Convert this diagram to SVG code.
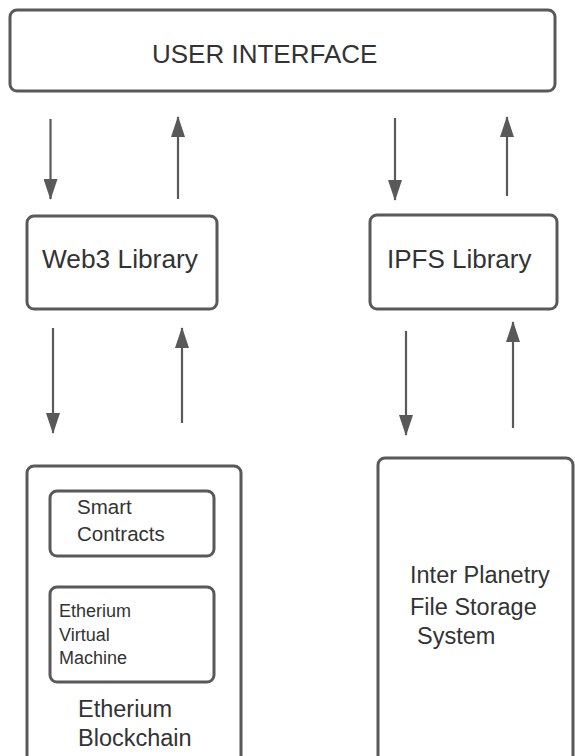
<svg xmlns="http://www.w3.org/2000/svg" width="575" height="756" viewBox="0 0 575 756">
<style>
.box{fill:#fff;stroke:#595959;stroke-width:3}
.t{font-family:"Liberation Sans",Arial,sans-serif;fill:#333}
.c{stroke:#595959;stroke-width:2.2;fill:none}
</style>
<defs>
<marker id="ah" markerUnits="userSpaceOnUse" markerWidth="21" markerHeight="14" refX="20" refY="7" orient="auto" viewBox="0 0 21 14">
<path d="M0,0 L21,7 L0,14 Z" fill="#595959"/>
</marker>
</defs>
<rect width="575" height="756" fill="#fff"/>
<g id="connectors">
<line class="c" x1="50.5" y1="119" x2="50.5" y2="199" marker-end="url(#ah)"/>
<line class="c" x1="178" y1="199" x2="178" y2="117" marker-end="url(#ah)"/>
<line class="c" x1="395" y1="118" x2="395" y2="200" marker-end="url(#ah)"/>
<line class="c" x1="507" y1="196" x2="507" y2="117" marker-end="url(#ah)"/>
<line class="c" x1="53" y1="328" x2="53" y2="433" marker-end="url(#ah)"/>
<line class="c" x1="182" y1="423" x2="182" y2="328" marker-end="url(#ah)"/>
<line class="c" x1="406" y1="331" x2="406" y2="435" marker-end="url(#ah)"/>
<line class="c" x1="513" y1="428" x2="513" y2="322" marker-end="url(#ah)"/>
</g>
<g id="ui">
<rect class="box" x="10" y="10" width="545" height="81" rx="7"/>
<text class="t" x="152" y="63" font-size="26">USER INTERFACE</text>
</g>
<g id="web3">
<rect class="box" x="27" y="216" width="190" height="93" rx="7"/>
<text class="t" x="42" y="268" font-size="26.3">Web3 Library</text>
</g>
<g id="ipfslib">
<rect class="box" x="370" y="215" width="187" height="94" rx="7"/>
<text class="t" x="387" y="268" font-size="26">IPFS Library</text>
</g>
<g id="eth">
<rect class="box" x="27" y="466" width="214" height="310" rx="7"/>
<text class="t" x="78" y="717" font-size="23.5">Etherium</text>
<text class="t" x="78" y="746" font-size="23.5">Blockchain</text>
</g>
<g id="sc">
<rect class="box" x="50" y="491" width="164" height="65" rx="7"/>
<text class="t" x="77" y="514" font-size="20.5">Smart</text>
<text class="t" x="77" y="541" font-size="20.5">Contracts</text>
</g>
<g id="evm">
<rect class="box" x="50" y="587" width="164" height="95" rx="7"/>
<text class="t" x="59" y="617" font-size="18">Etherium</text>
<text class="t" x="59" y="641" font-size="18">Virtual</text>
<text class="t" x="59" y="664" font-size="18">Machine</text>
</g>
<g id="ipfs">
<rect class="box" x="378" y="458" width="195" height="320" rx="7"/>
<text class="t" x="410" y="583" font-size="23.5">Inter Planetry</text>
<text class="t" x="410" y="615" font-size="23.5">File Storage</text>
<text class="t" x="417" y="644" font-size="23.5">System</text>
</g>
</svg>
